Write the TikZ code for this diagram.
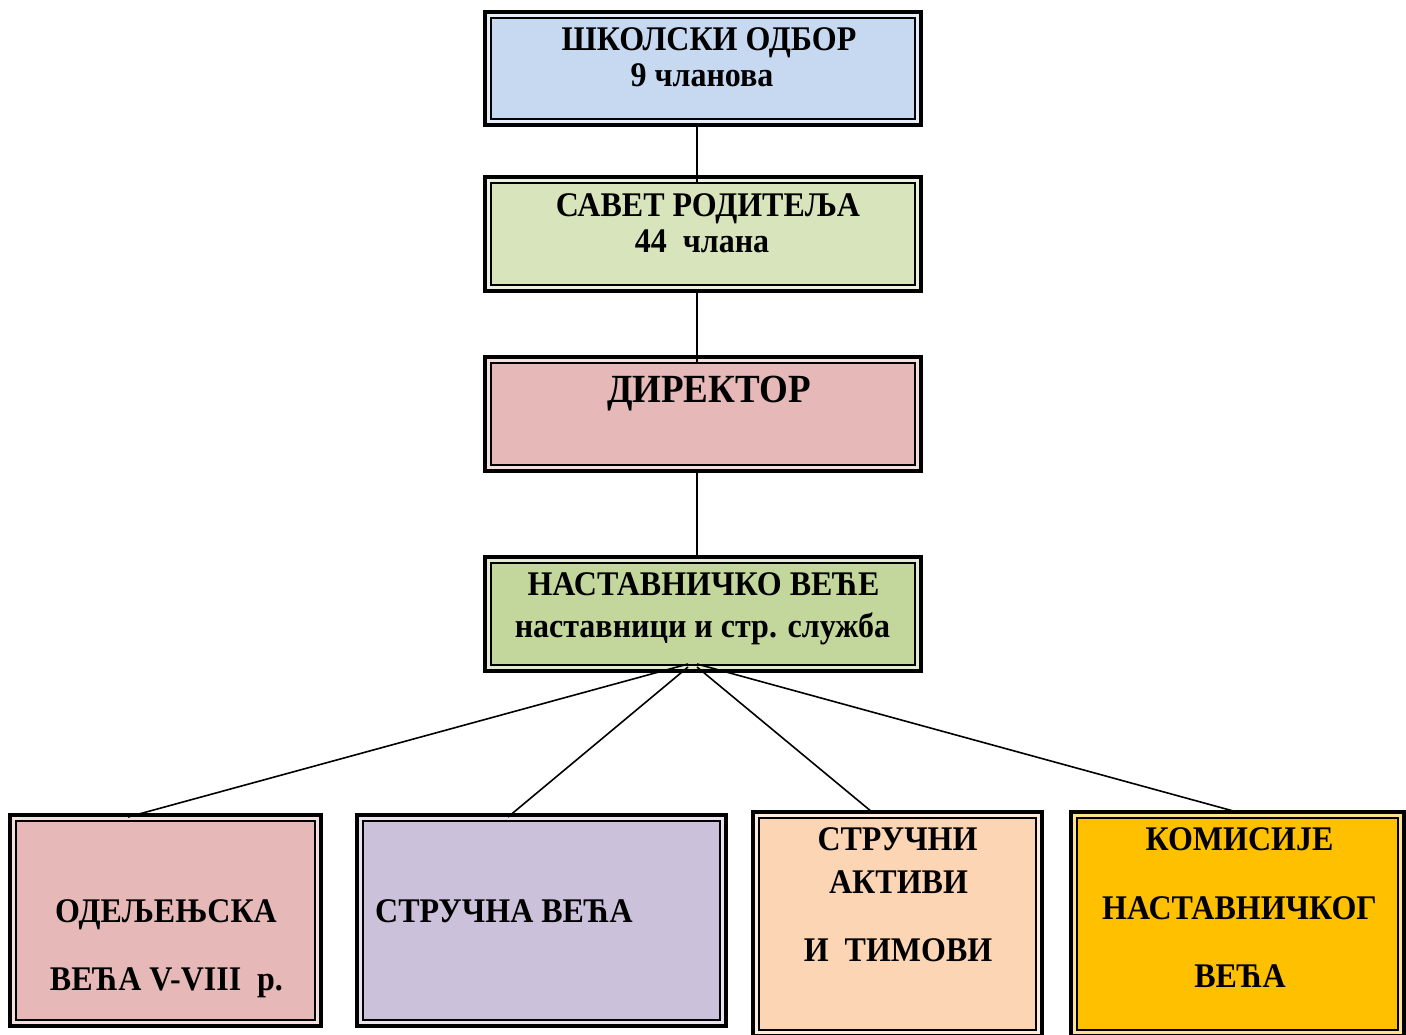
\documentclass[tikz,border=0pt]{standalone}
\usepackage{fontspec}
\usepackage{graphicx}
\setmainfont{Liberation Serif}
\definecolor{cblue}{HTML}{C6D9F1}
\definecolor{cgreenl}{HTML}{D8E4BC}
\definecolor{cred}{HTML}{E6B9B8}
\definecolor{cgreen}{HTML}{C3D69B}
\definecolor{cpurple}{HTML}{CCC1DA}
\definecolor{corange}{HTML}{FCD5B5}
\definecolor{cgold}{HTML}{FFC000}
\newcommand{\tallT}[1]{\scalebox{1}[1.08]{#1}}
\begin{document}
\begin{tikzpicture}[x=1pt,y=-1pt,
  orgbox/.style={draw=black, line width=3.2pt, inner sep=0pt, outer sep=0pt,
    path picture={
      \draw[line width=3.4pt, white, opacity=0.55]
        ([shift={(3.3pt,-3.3pt)}]path picture bounding box.north west) rectangle
        ([shift={(-3.3pt,3.3pt)}]path picture bounding box.south east);
      \draw[line width=1.7pt]
        ([shift={(5.9pt,-5.9pt)}]path picture bounding box.north west) rectangle
        ([shift={(-5.9pt,5.9pt)}]path picture bounding box.south east);}},
  txt/.style={font=\bfseries\fontsize{32}{38}\selectfont, inner sep=0pt, anchor=base},
  conn/.style={line width=1.6pt, draw=black}]
\useasboundingbox (0,0) rectangle (1406,1034);

% boxes
\node[orgbox, fill=cblue,   minimum width=436pt, minimum height=113pt] (n1) at (703,68.5) {};
\node[orgbox, fill=cgreenl, minimum width=436pt, minimum height=114pt] (n2) at (703,234) {};
\node[orgbox, fill=cred,    minimum width=436pt, minimum height=114pt] (n3) at (703,414) {};
\node[orgbox, fill=cgreen,  minimum width=436pt, minimum height=114pt] (n4) at (703,614) {};
\node[orgbox, fill=cred,    minimum width=311pt, minimum height=211pt] (b1) at (165.5,920.5) {};
\node[orgbox, fill=cpurple, minimum width=369pt, minimum height=211pt] (b2) at (541.5,920.5) {};
\node[orgbox, fill=corange, minimum width=289pt, minimum height=224pt] (b3) at (897.5,924) {};
\node[orgbox, fill=cgold,   minimum width=333pt, minimum height=224pt] (b4) at (1237.5,924) {};

% texts
\node[txt] (t1a) at (709,50) {\tallT{ШКОЛСКИ ОДБОР}};
\node[txt] (t1b) at (702,86) {\tallT{9 чланова}};
\node[txt] (t2a) at (708,216) {\tallT{САВЕТ РОДИТЕЉА}};
\node[txt] (t2b) at (702,252) {\tallT{44\ \ члана}};
\node[txt, font=\bfseries\fontsize{37}{44}\selectfont] (t3a) at (709,402) {\tallT{ДИРЕКТОР}};
\node[txt] (t4a) at (703.5,595) {\tallT{НАСТАВНИЧКО ВЕЋЕ}};
\node[txt] (t4b) at (702.5,637) {\tallT{наставници и стр. служба}};
\node[txt] (tb1a) at (166,922) {\tallT{ОДЕЉЕЊСКА}};
\node[txt] (tb1b) at (166.5,990) {\tallT{ВЕЋА V-VIII\ \ р.}};
\node[txt, anchor=base west] (tb2a) at (375,922) {\tallT{СТРУЧНА ВЕЋА}};
\node[txt] (tb3a) at (897.5,850) {\tallT{СТРУЧНИ}};
\node[txt] (tb3b) at (898.5,893) {\tallT{АКТИВИ}};
\node[txt] (tb3c) at (898,961) {\tallT{И\ \ ТИМОВИ}};
\node[txt] (tb4a) at (1239.5,850) {\tallT{КОМИСИЈЕ}};
\node[txt] (tb4b) at (1239.5,919) {\tallT{НАСТАВНИЧКОГ}};
\node[txt] (tb4c) at (1240,987) {\tallT{ВЕЋА}};

% connector x positions
\coordinate (vx) at (697,0);
\coordinate (sa) at (688,0);
\coordinate (sb) at (697,0);
\coordinate (e1) at (128,0);
\coordinate (e2) at (508,0);
\coordinate (e3) at (872,0);
\coordinate (e4) at (1237,0);

\draw[conn] ([yshift=2pt]n1.south -| vx) -- ([yshift=-6pt]n2.north -| vx);
\draw[conn] ([yshift=2pt]n2.south -| vx) -- ([yshift=-6pt]n3.north -| vx);
\draw[conn] ([yshift=2pt]n3.south -| vx) -- ([yshift=-2pt]n4.north -| vx);
\draw[conn] ([yshift=7pt]n4.south -| sa) -- ([yshift=-2pt]b1.north -| e1);
\draw[conn] ([yshift=4pt]n4.south -| sa) -- ([yshift=-2pt]b2.north -| e2);
\draw[conn] ([yshift=4pt]n4.south -| sb) -- ([yshift=0pt]b3.north -| e3);
\draw[conn] ([yshift=7pt]n4.south -| sb) -- ([yshift=0pt]b4.north -| e4);
\end{tikzpicture}
\end{document}
